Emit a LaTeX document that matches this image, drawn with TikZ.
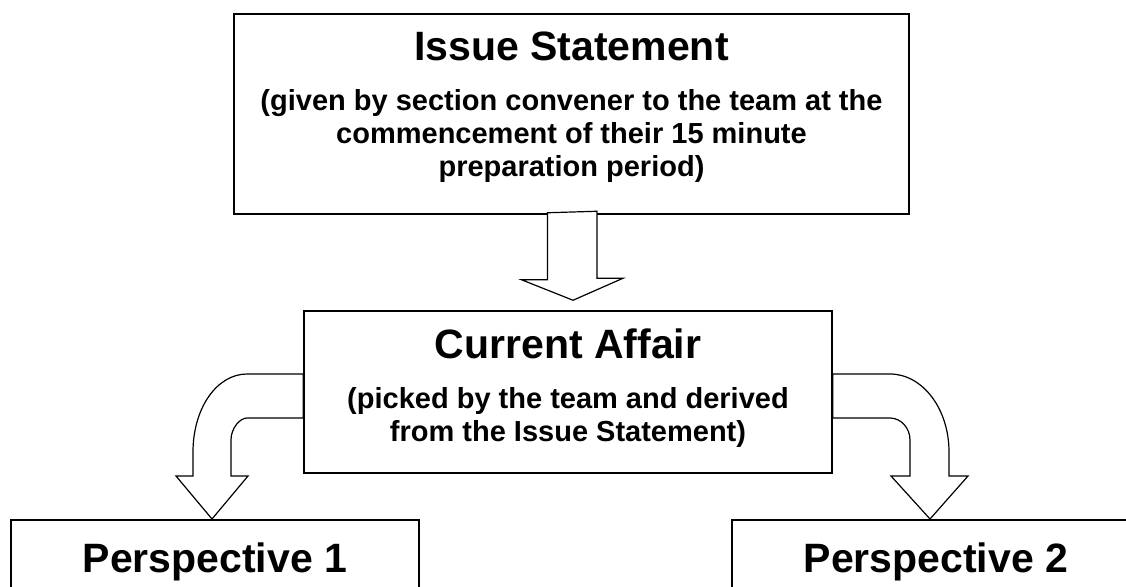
\documentclass[tikz,border=0pt]{standalone}
\usepackage{fontspec}
\setmainfont{Liberation Sans}
\usepackage{tikz}
\usetikzlibrary{calc,positioning}

\newcommand{\headfont}{\fontsize{41}{41}\selectfont}

\begin{document}
\begin{tikzpicture}[x=1pt,y=-1pt,
		box/.style={draw,line width=1.5pt,fill=white,inner sep=0pt},
		boxtext/.style={align=center,inner sep=0pt,font=\bfseries\fontsize{29}{33}\selectfont},
		headtext/.style={font=\bfseries\headfont,inner sep=0pt},
		blockarrow/.style={draw,line width=1.2pt,fill=white,line join=miter}]
			\useasboundingbox (0,0) rectangle (1126,586);
			\clip (0,0) rectangle (1126,586);
			
			\node[box,minimum width=675pt,minimum height=200pt] (issue) at (571.5,114) {};
			\node[boxtext,below=18.7pt of issue.north] (issuetext)
				{{\headfont Issue Statement}\\[17pt]
				(given by section convener to the team at the\\
				commencement of their 15 minute\\
				preparation period)};
			
			\node[box,minimum width=528pt,minimum height=162pt] (affair) at (568,392) {};
			\node[boxtext,below=18.7pt of affair.north] (affairtext)
				{{\headfont Current Affair}\\[17pt]
				(picked by the team and derived\\
				from the Issue Statement)};
			
			\node[box,minimum width=408pt,minimum height=160pt,anchor=north] (persp1) at (215,519) {};
			\node[headtext,anchor=base] (persp1title) at ($(persp1.north)+(0,53)$) {Perspective 1};
			
			\node[box,minimum width=408pt,minimum height=160pt,anchor=north] (persp2) at (936,519) {};
			\node[headtext,anchor=base] (persp2title) at ($(persp2.north)+(0,53)$) {Perspective 2};
			
			% issue -> affair
			\draw[blockarrow] ($(issue.south)+(-24,-2)$) -- ++(0,67) -- ++(-26,0)
				-- ($(affair.north)+(5,-10)$) -- ++(50,-22) -- ++(-26,0) -- ++(0,-67) -- cycle;
			
			% affair -> persp1
			\draw[blockarrow] (affair.west |- 0,374) -- (247,374)
				.. controls (217,374) and (193,408) .. (193,452) -- (193,476) -- (176,476)
				-- (212,0 |- persp1.north) -- (248,476) -- (231,476) -- (231,440)
				.. controls (231,428) and (240,418) .. (247,418) -- (affair.west |- 0,418) -- cycle;
			
			% affair -> persp2
			\draw[blockarrow] (affair.east |- 0,374) -- (890,374)
				.. controls (922,374) and (949,408) .. (949,452) -- (949,476) -- (968,476)
				-- (930,0 |- persp2.north) -- (891,476) -- (910,476) -- (910,440)
				.. controls (910,428) and (901,418) .. (890,418) -- (affair.east |- 0,418) -- cycle;
			
		\end{tikzpicture}
\end{document}
